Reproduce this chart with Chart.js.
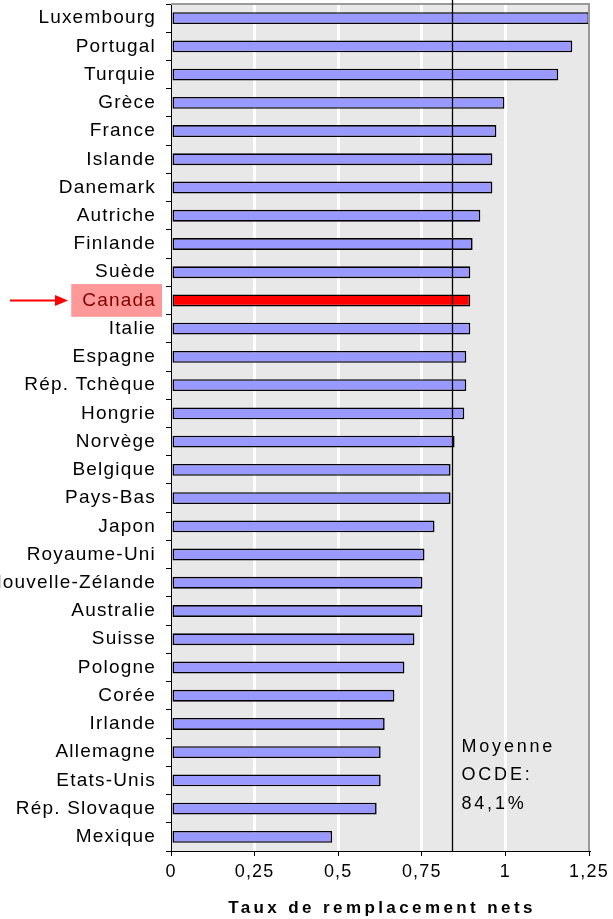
<!DOCTYPE html>
<html lang="fr">
<head>
<meta charset="utf-8">
<title>Taux de remplacement nets</title>
<script src="https://cdn.jsdelivr.net/npm/chart.js@4/dist/chart.umd.min.js"></script>
<style>
  html, body { margin: 0; padding: 0; background: #fff; }
  #wrap { position: relative; width: 613px; height: 919px; }
</style>
</head>
<body>
<div id="wrap"><canvas id="chart"></canvas></div>
<script>
// Pays, du taux le plus élevé au plus faible
const countries = [
  'Luxembourg', 'Portugal', 'Turquie', 'Grèce', 'France', 'Islande',
  'Danemark', 'Autriche', 'Finlande', 'Suède', 'Canada', 'Italie',
  'Espagne', 'Rép. Tchèque', 'Hongrie', 'Norvège', 'Belgique', 'Pays-Bas',
  'Japon', 'Royaume-Uni', 'Nouvelle-Zélande', 'Australie', 'Suisse',
  'Pologne', 'Corée', 'Irlande', 'Allemagne', 'Etats-Unis',
  'Rép. Slovaque', 'Mexique'
];

// Taux de remplacement nets
const rates = [
  1.25, 1.20, 1.158, 0.997, 0.973, 0.961,
  0.961, 0.925, 0.902, 0.895, 0.895, 0.895,
  0.883, 0.883, 0.877, 0.848, 0.836, 0.836,
  0.788, 0.758, 0.752, 0.752, 0.728,
  0.698, 0.668, 0.639, 0.627, 0.627,
  0.615, 0.482
];

// Moyenne OCDE
const oecdAverage = 0.841;
const averageLabel = ['Moyenne', 'OCDE:', '84,1%'];

// Graduations de l'axe horizontal
const xTickValues = [0, 0.25, 0.5, 0.75, 1, 1.25];
const xTickLabels = ['0', '0,25', '0,5', '0,75', '1', '1,25'];

const axisTitle = 'Taux de remplacement nets';
const highlighted = 'Canada';

const FONT = '"Liberation Sans", Arial, sans-serif';
const LABEL_SPACING = '1.2px';

// Espacement des lettres appliqué au contexte avant la mesure et le dessin des étiquettes
const letterSpacing = {
  id: 'letterSpacing',
  beforeLayout(chart) { chart.ctx.letterSpacing = LABEL_SPACING; },
  beforeDraw(chart) { chart.ctx.letterSpacing = LABEL_SPACING; }
};

// Fond gris de la zone de tracé, cadre, ligne de moyenne, flèche et titre d'axe
const decorations = {
  id: 'decorations',
  beforeDraw(chart) {
    const { ctx, chartArea: a } = chart;
    ctx.save();
    ctx.fillStyle = '#e8e8e8';
    ctx.fillRect(a.left, a.top, a.right - a.left, a.bottom - a.top);
    ctx.restore();
  },
  afterDraw(chart) {
    const { ctx, chartArea: a, scales } = chart;
    const x = scales.x, y = scales.y;
    ctx.save();

    // cadre gris en haut et à droite
    ctx.strokeStyle = '#9a9a9a';
    ctx.lineWidth = 2;
    ctx.beginPath();
    ctx.moveTo(a.left, a.top);
    ctx.lineTo(a.right, a.top);
    ctx.lineTo(a.right, a.bottom);
    ctx.stroke();

    // ligne verticale de la moyenne OCDE
    const ax = Math.round(x.getPixelForValue(oecdAverage)) + 0.5;
    ctx.strokeStyle = '#000';
    ctx.lineWidth = 1.3;
    ctx.beginPath();
    ctx.moveTo(ax, 0);
    ctx.lineTo(ax, a.bottom);
    ctx.stroke();

    // étiquette de la moyenne
    ctx.fillStyle = '#000';
    ctx.font = '18px ' + FONT;
    ctx.letterSpacing = '2.8px';
    ctx.textBaseline = 'middle';
    ctx.textAlign = 'left';
    averageLabel.forEach((t, i) => {
      ctx.fillText(t, ax + 9, a.bottom - 104 + i * 28.5);
    });

    // flèche vers le pays mis en évidence
    const cy = y.getPixelForValue(countries.indexOf(highlighted));
    ctx.strokeStyle = '#ff0000';
    ctx.fillStyle = '#ff0000';
    ctx.lineWidth = 2;
    ctx.beginPath();
    ctx.moveTo(10, cy);
    ctx.lineTo(56, cy);
    ctx.stroke();
    ctx.beginPath();
    ctx.moveTo(68, cy);
    ctx.lineTo(55, cy - 5.5);
    ctx.lineTo(55, cy + 5.5);
    ctx.closePath();
    ctx.fill();

    // titre de l'axe horizontal
    ctx.font = 'bold 17px ' + FONT;
    ctx.letterSpacing = '3.4px';
    ctx.textAlign = 'center';
    ctx.textBaseline = 'middle';
    ctx.fillStyle = '#000';
    ctx.fillText(axisTitle, (a.left + a.right) / 2 + 2, 908);
    ctx.restore();
  }
};

new Chart(document.getElementById('chart'), {
  type: 'bar',
  data: {
    labels: countries,
    datasets: [{
      data: rates,
      backgroundColor: countries.map(c => c === highlighted ? '#ff0000' : '#9999ff'),
      borderColor: '#000',
      borderWidth: 1.6,
      borderSkipped: false,
      barPercentage: 0.42,
      categoryPercentage: 1
    }]
  },
  options: {
    indexAxis: 'y',
    responsive: true,
    maintainAspectRatio: false,
    animation: false,
    layout: { autoPadding: false, padding: { top: 4, right: 24, left: 0, bottom: 0 } },
    plugins: {
      legend: { display: false },
      tooltip: { enabled: false },
      title: { display: false }
    },
    scales: {
      x: {
        type: 'linear',
        min: 0,
        max: 1.25,
        afterFit(scale) {
          scale.height = 68;
          scale.paddingLeft = 0;
          scale.paddingRight = 0;
        },
        afterBuildTicks(scale) {
          scale.ticks = xTickValues.map(v => ({ value: v }));
        },
        ticks: {
          color: '#000',
          font: { family: FONT, size: 18 },
          padding: 5,
          callback: (v, i) => xTickLabels[i]
        },
        grid: {
          color: ctx => (ctx.tick && (ctx.tick.value === 0 || ctx.tick.value === 1.25)) ? 'rgba(0,0,0,0)' : '#ffffff',
          lineWidth: 3,
          tickColor: '#000',
          tickWidth: 1,
          tickLength: 5
        },
        border: { display: true, color: '#000', width: 1 }
      },
      y: {
        afterFit(scale) {
          scale.width = 171;
          scale.paddingTop = 0;
          scale.paddingBottom = 0;
        },
        ticks: {
          color: ctx => countries[ctx.index] === highlighted ? '#800000' : '#000',
          font: { family: FONT, size: 19 },
          padding: 10,
          autoSkip: false,
          showLabelBackdrop: ctx => countries[ctx.index] === highlighted,
          backdropColor: ctx => countries[ctx.index] === highlighted ? '#ff9999' : 'rgba(0,0,0,0)',
          backdropPadding: { top: 5, bottom: 5, left: 11, right: 6 }
        },
        grid: {
          offset: true,
          drawOnChartArea: false,
          tickColor: '#000',
          tickLength: 5,
          tickWidth: 1
        },
        border: { display: true, color: '#000', width: 1 }
      }
    }
  },
  plugins: [letterSpacing, decorations]
});
</script>
</body>
</html>
